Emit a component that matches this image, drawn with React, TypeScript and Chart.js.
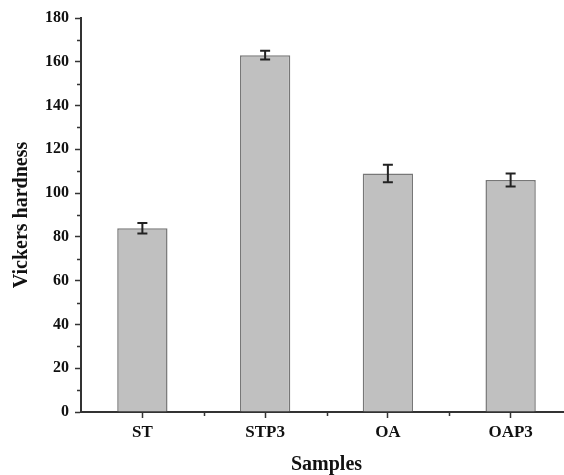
import React, { useEffect, useRef } from "react";
import { Chart, registerables } from "chart.js";

Chart.register(...registerables);

const categories = ["ST", "STP3", "OA", "OAP3"];
const hardness = [84, 163, 109, 106];
const errors = [2.4, 2, 4, 3];
const yTicks = [0, 20, 40, 60, 80, 100, 120, 140, 160, 180];

const FONT = "'Liberation Serif', 'Times New Roman', serif";
const AXIS = "#333333";
const TEXT = "#111111";

const errorBarPlugin = {
  id: "errorBars",
  afterDatasetsDraw(chart: any) {
    const { ctx } = chart;
    const x = chart.scales.x;
    const y = chart.scales.y;
    ctx.save();
    ctx.strokeStyle = "#222222";
    ctx.lineWidth = 2;
    hardness.forEach((v, i) => {
      const px = x.getPixelForValue(i);
      const top = y.getPixelForValue(v + errors[i]);
      const bot = y.getPixelForValue(v - errors[i]);
      ctx.beginPath();
      ctx.moveTo(px, top);
      ctx.lineTo(px, bot);
      ctx.moveTo(px - 5, top);
      ctx.lineTo(px + 5, top);
      ctx.moveTo(px - 5, bot);
      ctx.lineTo(px + 5, bot);
      ctx.stroke();
    });
    ctx.restore();
  },
};

const minorTickPlugin = {
  id: "minorTicks",
  afterDraw(chart: any) {
    const { ctx, chartArea } = chart;
    const x = chart.scales.x;
    const y = chart.scales.y;
    ctx.save();
    ctx.strokeStyle = AXIS;
    ctx.lineWidth = 1.5;
    ctx.beginPath();
    for (let i = 0; i < yTicks.length - 1; i++) {
      const py = Math.round(y.getPixelForValue((yTicks[i] + yTicks[i + 1]) / 2)) + 0.5;
      ctx.moveTo(chartArea.left, py);
      ctx.lineTo(chartArea.left - 4, py);
    }
    for (let i = 0; i < categories.length - 1; i++) {
      const px = Math.round(x.getPixelForValue(i + 0.5)) + 0.5;
      ctx.moveTo(px, chartArea.bottom);
      ctx.lineTo(px, chartArea.bottom + 4);
    }
    ctx.stroke();
    ctx.restore();
  },
};

export default function App() {
  const ref = useRef<HTMLCanvasElement | null>(null);
  useEffect(() => {
    document.body.style.margin = "0";
    document.body.style.overflow = "hidden";
    const chart = new Chart(ref.current as HTMLCanvasElement, {
      type: "bar",
      data: {
        labels: categories,
        datasets: [
          {
            data: hardness,
            backgroundColor: "#c0c0c0",
            borderColor: "#777777",
            borderWidth: 1.5,
            categoryPercentage: 1,
            barPercentage: 0.41,
          },
        ],
      },
      options: {
        animation: false,
        responsive: false,
        layout: { padding: { top: 18, right: 8, left: 0, bottom: 0 } },
        plugins: {
          legend: { display: false },
          tooltip: { enabled: false },
        },
        scales: {
          x: {
            afterFit(axis: any) {
              axis.height = 63;
            },
            grid: {
              offset: false,
              drawOnChartArea: false,
              drawTicks: true,
              tickLength: 6,
              tickColor: AXIS,
              tickWidth: 1.5,
            },
            border: { color: AXIS, width: 2 },
            ticks: {
              color: TEXT,
              font: { family: FONT, size: 17, weight: "bold" },
              padding: 4,
            },
            title: {
              display: true,
              text: "Samples",
              color: TEXT,
              font: { family: FONT, size: 20, weight: "bold", lineHeight: 1 },
              padding: { top: 0, bottom: 0 },
            },
          },
          y: {
            min: 0,
            max: 180,
            afterFit(axis: any) {
              axis.width = 81;
            },
            afterBuildTicks(axis: any) {
              axis.ticks = yTicks.map((v) => ({ value: v }));
            },
            grid: {
              drawOnChartArea: false,
              drawTicks: true,
              tickLength: 6,
              tickColor: AXIS,
              tickWidth: 1.5,
            },
            border: { color: AXIS, width: 2 },
            ticks: {
              color: TEXT,
              font: { family: FONT, size: 16, weight: "bold" },
              padding: 6,
            },
            title: {
              display: true,
              text: "Vickers hardness",
              color: TEXT,
              font: { family: FONT, size: 20, weight: "bold", lineHeight: 1 },
              padding: { top: 12, bottom: 0 },
            },
          },
        },
      },
      plugins: [errorBarPlugin, minorTickPlugin],
    } as any);
    return () => chart.destroy();
  }, []);
  return (
    <div style={{ position: "absolute", left: 0, top: 0, width: 580, height: 475 }}>
      <canvas ref={ref} width={580} height={475} style={{ display: "block" }} />
    </div>
  );
}
